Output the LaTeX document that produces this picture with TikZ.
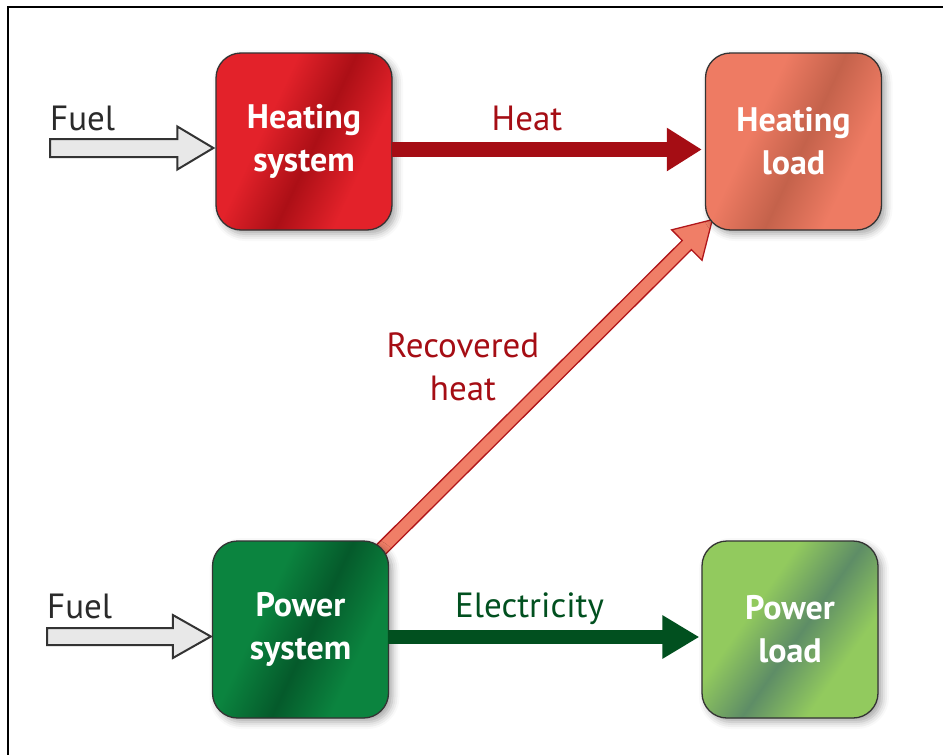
\documentclass[tikz,border=0pt]{standalone}
\usepackage{fontspec}
\setmainfont{PT Sans}
\usetikzlibrary{calc,arrows.meta,shadows.blur,backgrounds}

\definecolor{hsL}{HTML}{E3222A}
\definecolor{hsD}{HTML}{AC0F16}
\definecolor{hlL}{HTML}{EE7B63}
\definecolor{hlD}{HTML}{C4624B}
\definecolor{psL}{HTML}{0B843F}
\definecolor{psD}{HTML}{055A2B}
\definecolor{plL}{HTML}{92CA5E}
\definecolor{plD}{HTML}{5E8D66}
\definecolor{heatcol}{HTML}{A50D14}
\definecolor{eleccol}{HTML}{01501F}
\definecolor{rhfill}{HTML}{F07E67}
\definecolor{rhline}{HTML}{B0161A}
\definecolor{fuelfill}{HTML}{E8E8E8}
\definecolor{fuelline}{HTML}{333333}
\definecolor{boxline}{HTML}{333333}
\definecolor{fueltext}{HTML}{2A2A2A}

\newcommand{\boxshade}[3]{\pgfdeclarehorizontalshading{#1}{100bp}{color(0bp)=(#2); color(25bp)=(#2); color(38bp)=(#2); color(53bp)=(#3); color(68bp)=(#2); color(75bp)=(#2); color(100bp)=(#2)}}
\boxshade{hsShade}{hsL}{hsD}
\boxshade{hlShade}{hlL}{hlD}
\boxshade{psShade}{psL}{psD}
\boxshade{plShade}{plL}{plD}

% fat outlined arrow: style, from, to, shaft half width, head half width, head length
\newcommand{\fatarr}[6]{%
  \path[#1] ($(#2)!#4!90:(#3)$)
    -- ($(#3)!#6!(#2)!#4!-90:(#2)$)
    -- ($(#3)!#6!(#2)!#5!-90:(#2)$)
    -- (#3)
    -- ($(#3)!#6!(#2)!#5!90:(#2)$)
    -- ($(#3)!#6!(#2)!#4!90:(#2)$)
    -- ($(#2)!#4!-90:(#3)$) -- cycle;}

\begin{document}
\begin{tikzpicture}[x=1pt,y=-1pt,
  sysbox/.style={draw=boxline, line width=1.3pt, rounded corners=25pt,
    minimum width=176pt, minimum height=177pt, inner sep=0pt,
    text=white, align=center, font=\bfseries\fontsize{34}{43}\selectfont,
    blur shadow={shadow xshift=4pt, shadow yshift=-4pt, shadow blur radius=7pt, shadow opacity=35}},
  flowlbl/.style={font=\fontsize{35}{43}\selectfont, inner sep=0pt},
  heatarr/.style={draw=heatcol, line width=15pt, -{Triangle[length=35pt,width=41pt]}},
  elecarr/.style={draw=eleccol, line width=14pt, -{Triangle[length=37pt,width=41pt]}},
  fuelarrow/.style={draw=fuelline, fill=fuelfill, line width=2pt, line join=miter},
  rharrow/.style={draw=rhline, fill=rhfill, line width=1.3pt, line join=miter},
  frameline/.style={draw=black, line width=2pt}
]
\useasboundingbox (0,0) rectangle (943,755);
\draw[frameline] (8,770) -- (8,7) -- (960,7);

% boxes
\node[sysbox, shading=hsShade, shading angle=-25] (hs) at (304,141.5) {Heating\\system};
\node[sysbox, shading=hlShade, shading angle=-25] (hl) at (793.5,141.5) {Heating\\load};
\node[sysbox, shading=psShade, shading angle=-25] (ps) at (300.5,629.5) {Power\\system};
\node[sysbox, shading=plShade, shading angle=-35] (pl) at (790,629.5) {Power\\load};

% recovered heat arrow (behind boxes)
\coordinate (rhA) at ($(ps.north east)+(-11,12)$);
\coordinate (rhB) at ($(hl.south west)+(7.5,-11)$);
\begin{scope}[on background layer]
\fatarr{rharrow}{rhA}{rhB}{6.5pt}{21.5pt}{36pt}
\end{scope}

% fuel arrows
\coordinate (f1) at (50,148);
\coordinate (f1e) at ($(hs.west)+(-2,6.5)$);
\fatarr{fuelarrow}{f1}{f1e}{9pt}{21.5pt}{36pt}
\coordinate (f2) at (47,636.5);
\coordinate (f2e) at ($(ps.west)+(-1,7)$);
\fatarr{fuelarrow}{f2}{f2e}{8.5pt}{21.5pt}{38pt}

% heat and electricity
\draw[heatarr] ($(hs.east)+(-1,8)$) -- ($(hl.west)+(-3,8)$);
\draw[elecarr] ($(ps.east)+(-1,7.5)$) -- ($(pl.west)+(-2,7.5)$);

% labels
\node[flowlbl, text=fueltext, anchor=base west] (fuel1) at (50,130) {Fuel};
\node[flowlbl, text=fueltext, anchor=base west] (fuel2) at (47,618) {Fuel};
\node[flowlbl, text=heatcol, anchor=base] (heatlbl) at (527,130) {Heat};
\node[flowlbl, text=eleccol, anchor=base] (eleclbl) at (529.5,617) {Electricity};
\node[flowlbl, text=heatcol, align=center, anchor=base] (rhlbl) at (463,400) {Recovered\\heat};
\end{tikzpicture}
\end{document}
